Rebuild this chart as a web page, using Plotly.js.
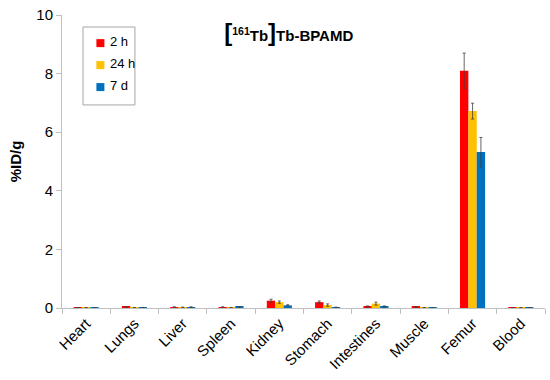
<!DOCTYPE html>
<html><head><meta charset="utf-8">
<script src="https://cdn.plot.ly/plotly-3.0.1.min.js"></script>
<style>body{margin:0;background:#fff}#c{width:550px;height:380px}</style>
</head><body><div id="c"></div>
<script>
const organs = ["Heart","Lungs","Liver","Spleen","Kidney","Stomach","Intestines","Muscle","Femur","Blood"];
const v2h  = [0.01,0.04,0.03,0.03,0.25,0.20,0.05,0.04,8.10,0.01];
const e2h  = [0.005,0.01,0.01,0.01,0.05,0.04,0.02,0.01,0.60,0.005];
const v24h = [0.01,0.01,0.02,0.01,0.20,0.10,0.15,0.01,6.72,0.01];
const e24h = [0.005,0.005,0.01,0.005,0.04,0.04,0.05,0.005,0.27,0.005];
const v7d  = [0.01,0.01,0.03,0.04,0.09,0.02,0.05,0.01,5.32,0.01];
const e7d  = [0.005,0.005,0.01,0.01,0.02,0.01,0.02,0.005,0.50,0.005];
const names = ["2 h","24 h","7 d"];
const colors = ["#ff0000","#ffc000","#0070c0"];
const vals = [v2h,v24h,v7d], errs=[e2h,e24h,e7d];
const traces = vals.map((v,i)=>({type:"bar",x:organs,y:v,name:names[i],marker:{color:colors[i]},showlegend:false,
  error_y:{type:"data",array:errs[i],visible:true,color:"#404040",thickness:0.8,width:1.5}}));
// legend drawn on an invisible overlay axis (0..1)
const legY = [0.904,0.829,0.754];
traces.push({type:"scatter",mode:"markers+text",xaxis:"x2",yaxis:"y2",x:names.map(()=>0.0795),y:legY,
  text:names,texttemplate:" %{text}",textposition:"middle right",textfont:{size:13,color:"#000"},
  marker:{symbol:"square",size:8,color:colors},showlegend:false,hoverinfo:"skip",cliponaxis:false});
Plotly.newPlot("c",traces,{
  width:550,height:380,margin:{l:62,r:5,t:15,b:72},
  paper_bgcolor:"#fff",plot_bgcolor:"#fff",
  barmode:"group",bargap:0.48,bargroupgap:0,
  font:{family:"Arial, Liberation Sans, sans-serif",color:"#000"},
  title:{text:"<b><span style='font-size:24px'>[</span><sup>161</sup>Tb<span style='font-size:24px'>]</span>Tb-BPAMD</b>",
    x:0.525,xanchor:"center",y:0.905,yanchor:"middle",font:{size:15}},
  xaxis:{showgrid:false,linecolor:"#bfbfbf",linewidth:1,ticks:"outside",tickcolor:"#bfbfbf",ticklen:5,
    tickson:"boundaries",tickangle:-45,tickfont:{size:15},showline:true},
  yaxis:{range:[0,10],dtick:2,showgrid:false,showline:true,linecolor:"#bfbfbf",ticks:"outside",tickcolor:"#bfbfbf",ticklen:5,
    tickfont:{size:15},title:{text:"<b>%ID/g</b>",font:{size:15},standoff:11},zeroline:false},
  xaxis2:{overlaying:"x",range:[0,1],visible:false,fixedrange:true},
  yaxis2:{overlaying:"y",range:[0,1],visible:false,fixedrange:true},
  shapes:[{type:"rect",xref:"paper",yref:"paper",x0:0.0435,x1:0.151,y0:0.693,y1:0.959,
    line:{color:"#a6a6a6",width:1},fillcolor:"rgba(0,0,0,0)",layer:"below"}],
  showlegend:false
},{displayModeBar:false});
</script></body></html>
